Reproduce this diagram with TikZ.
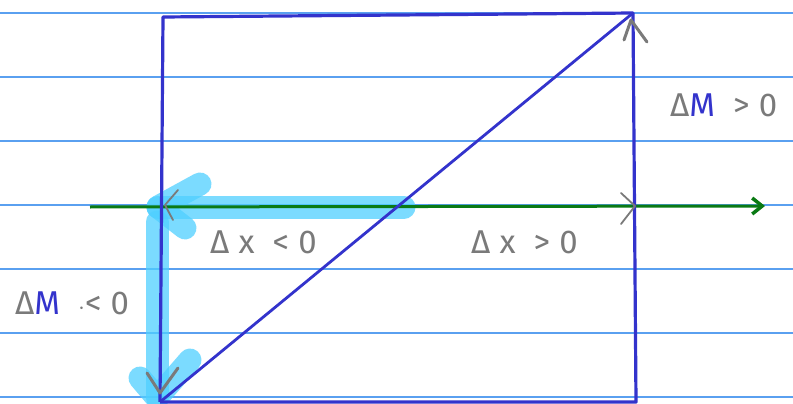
\documentclass[tikz,border=0pt]{standalone}
\usepackage{fontspec}
\setmainfont{Fira Sans}
\newfontfamily\hand[LetterSpace=28]{Fira Sans}
\usetikzlibrary{arrows.meta}
\definecolor{rule}{HTML}{5AA0F0}
\definecolor{pen}{HTML}{3333CC}
\definecolor{axis}{HTML}{0A7A14}
\definecolor{hl}{HTML}{4FD0FF}
\definecolor{gr}{HTML}{7A7A7A}
\tikzset{
  ruleline/.style={rule, line width=1.2pt},
  penline/.style={pen, line width=3.2pt, line join=round},
  axisline/.style={axis, line width=3pt},
  highlight/.style={hl, opacity=0.75, line width=23pt, line cap=round, line join=round},
  grayhead/.style={gr, line width=3pt, line cap=round, line join=round},
  label/.style={gr, font=\hand\fontsize{33}{33}\selectfont, inner sep=0pt},
}
\begin{document}
\begin{tikzpicture}[x=1pt,y=-1pt]
\useasboundingbox (0,0) rectangle (793,404);
\fill[white] (0,0) rectangle (793,404);
\foreach \yy in {13,77,141,205,269,333,397}
  \draw[ruleline] (0,\yy) -- (793,\yy);
% coordinates
\coordinate (TL) at (163,17);
\coordinate (TR) at (633,13);
\coordinate (BR) at (636,402);
\coordinate (BL) at (160,402);
\coordinate (O) at (158,207);
\coordinate (Hend) at (404,207);
\coordinate (Vbot) at (157,398);
\coordinate (Ax0) at (90,207);
\coordinate (Ax1) at (765,206);
% highlight strokes
\draw[highlight] (Hend) -- (O);
\draw[highlight] (200,184) -- (O) -- (185,228);
\draw[highlight] (157,222) -- (Vbot);
\draw[highlight] (140,378) -- (Vbot) -- (190,360);
% axis
\draw[axisline, -{Straight Barb[length=10pt,width=16pt,line width=3.5pt]}] (Ax0) -- (Ax1);
% rectangle and diagonal
\draw[penline] (BL) -- (TL) -- (TR) -- (BR) -- (BL);
\draw[pen, line width=2.8pt] (BL) -- (TR);
% gray chevrons
\draw[grayhead] (624,40) -- (631,20) -- (647,42);
\draw[grayhead, line width=1.8pt] (621,193) -- (635,206) -- (621,224);
\draw[grayhead, line width=1.8pt] (178,190) -- (165,205) -- (173,220);
\draw[grayhead] (147,373) -- (160,393) -- (178,368);
% labels
\node[label, anchor=base west] (dxneg) at (210,253) {Δx <0};
\node[label, anchor=base west] (dxpos) at (471,253) {Δx >0};
\node[label, anchor=base west] (dMpos) at (670,117) {Δ\textcolor{pen}{M} >0};
\node[label, anchor=base west] (dMneg) at (15,314) {Δ\textcolor{pen}{M} $\cdot$<0};
\end{tikzpicture}
\end{document}
